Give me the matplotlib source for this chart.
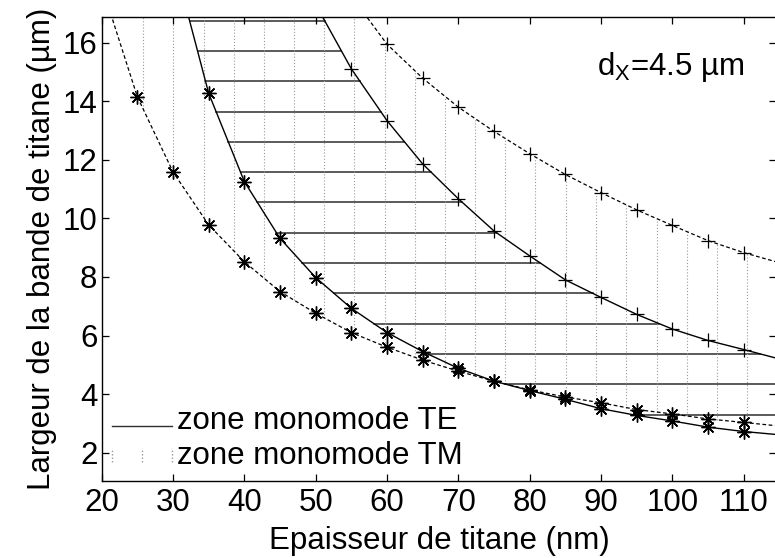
import matplotlib

matplotlib.use("Agg")
import matplotlib.pyplot as plt
import numpy as np
from matplotlib.legend_handler import HandlerBase
from matplotlib.lines import Line2D

plt.rcParams["font.family"] = ["Liberation Sans", "DejaVu Sans"]
plt.rcParams["mathtext.default"] = "regular"

# cut-off curves, width (um) vs titanium thickness (nm)
tm_low_x = [21.0, 25, 30, 35, 40, 45, 50, 55, 60, 65, 70, 75, 80, 85, 90, 95, 100, 105, 110, 114.5]
tm_low_y = [17.2, 14.16, 11.59, 9.78, 8.52, 7.50, 6.76, 6.10, 5.60, 5.16, 4.78, 4.44, 4.14, 3.90, 3.70, 3.47, 3.32, 3.15, 3.03, 2.92]

tm_up_x = [56.2, 60, 65, 70, 75, 80, 85, 90, 95, 100, 105, 110, 114.5]
tm_up_y = [17.2, 15.95, 14.79, 13.80, 12.97, 12.21, 11.50, 10.88, 10.29, 9.76, 9.24, 8.83, 8.52]

te_low_x = [31.85, 35, 40, 45, 50, 55, 60, 65, 70, 75, 80, 85, 90, 95, 100, 105, 110, 114.5]
te_low_y = [17.2, 14.28, 11.26, 9.32, 7.98, 6.93, 6.10, 5.45, 4.88, 4.44, 4.12, 3.82, 3.50, 3.27, 3.08, 2.87, 2.72, 2.62]

te_up_x = [50.25, 55, 60, 65, 70, 75, 80, 85, 90, 95, 100, 105, 110, 114.5]
te_up_y = [17.2, 15.11, 13.34, 11.86, 10.67, 9.57, 8.72, 7.90, 7.30, 6.72, 6.22, 5.83, 5.52, 5.23]

# hatching of the single-mode zones
te_hatch_y = [3.30, 4.34, 5.37, 6.41, 7.44, 8.48, 9.51, 10.55, 11.58, 12.62, 13.65, 14.69, 15.72, 16.76]
tm_hatch_x = [21.6, 25.8, 30.0, 34.3, 38.5, 42.7, 47.0, 51.2, 55.4, 59.7, 63.9,
              68.1, 72.4, 76.6, 80.8, 85.1, 89.3, 93.5, 97.8, 102.0, 106.2, 110.5]

x_ticks = [20, 30, 40, 50, 60, 70, 80, 90, 100, 110]
y_ticks = [2, 4, 6, 8, 10, 12, 14, 16]

HATCH_H = "#2e2e2e"
HATCH_V = "#999999"
FS = 22.5


class HLineHandler(HandlerBase):
    def create_artists(self, legend, orig_handle, xdescent, ydescent, width, height, fontsize, trans):
        y = -ydescent + 0.12 * height
        line = Line2D([-xdescent, -xdescent + width], [y, y], color=HATCH_H, lw=1.0)
        line.set_transform(trans)
        return [line]


class VDotHandler(HandlerBase):
    def create_artists(self, legend, orig_handle, xdescent, ydescent, width, height, fontsize, trans):
        arts = []
        for f in (0.0, 0.5, 1.0):
            x = -xdescent + f * width
            line = Line2D([x, x], [-ydescent + 0.1 * height, -ydescent + 0.7 * height],
                          color=HATCH_V, lw=1.0, ls=(0, (1, 1.5)))
            line.set_transform(trans)
            arts.append(line)
        return arts


def marker_mask(xs):
    return [float(x) % 5 == 0 for x in xs]


def main() -> None:
    fig = plt.figure(figsize=(7.75, 5.58), dpi=100)
    ax = fig.add_axes([0.1311, 0.138, 0.8705, 0.831])

    # TE zone: horizontal lines between the TE cut-offs
    for y in te_hatch_y:
        x0 = np.interp(y, te_low_y[::-1], te_low_x[::-1])
        x1 = np.interp(y, te_up_y[::-1], te_up_x[::-1])
        ax.plot([x0, x1], [y, y], color=HATCH_H, lw=1.1, zorder=1)

    # TM zone: dotted verticals between the TM cut-offs
    for x in tm_hatch_x:
        y0 = np.interp(x, tm_low_x, tm_low_y)
        y1 = np.interp(x, tm_up_x, tm_up_y)
        ax.plot([x, x], [y0, y1], color=HATCH_V, lw=0.8, ls=(0, (1, 1.8)), zorder=1)

    star = (8, 2, 0)
    dash = (0, (3, 2))
    ax.plot(tm_low_x, tm_low_y, color="black", lw=0.9, ls=dash, marker=star, ms=10,
            mew=1.0, markevery=marker_mask(tm_low_x), zorder=3)
    ax.plot(tm_up_x, tm_up_y, color="black", lw=0.9, ls=dash, marker="+", ms=10,
            mew=0.9, markevery=marker_mask(tm_up_x), zorder=3)
    ax.plot(te_low_x, te_low_y, color="black", lw=1.0, marker=star, ms=10,
            mew=1.0, markevery=marker_mask(te_low_x), zorder=3)
    ax.plot(te_up_x, te_up_y, color="black", lw=1.0, marker="+", ms=10,
            mew=0.9, markevery=marker_mask(te_up_x), zorder=3)

    ax.set_xlim(20, 114.55)
    ax.set_ylim(1.03, 16.87)
    ax.set_xticks(x_ticks)
    ax.set_yticks(y_ticks)
    ax.tick_params(direction="in", length=5, width=0.9, labelsize=FS,
                   top=True, right=True)
    ax.tick_params(axis="y", pad=3)
    ax.tick_params(axis="x", pad=5)
    for s in ax.spines.values():
        s.set_linewidth(1.0)

    ax.set_xlabel("Epaisseur de titane (nm)", fontsize=FS, labelpad=6)
    ax.set_ylabel("Largeur de la bande de titane (µm)", fontsize=FS, labelpad=4)

    ax.text(89.4, 15.18, "d$_X$=4.5 µm", fontsize=FS, ha="left", va="center")

    te_handle = Line2D([], [])
    tm_handle = Line2D([], [], ls=":")
    ax.legend([te_handle, tm_handle], ["zone monomode TE", "zone monomode TM"],
              handler_map={te_handle: HLineHandler(), tm_handle: VDotHandler()},
              loc="lower left", bbox_to_anchor=(0.016, 0.022), frameon=False,
              fontsize=FS, borderpad=0, borderaxespad=0, handlelength=1.9,
              handletextpad=0.18, labelspacing=0.15)

    fig.savefig("out.png", dpi=100)


if __name__ == "__main__":
    main()
